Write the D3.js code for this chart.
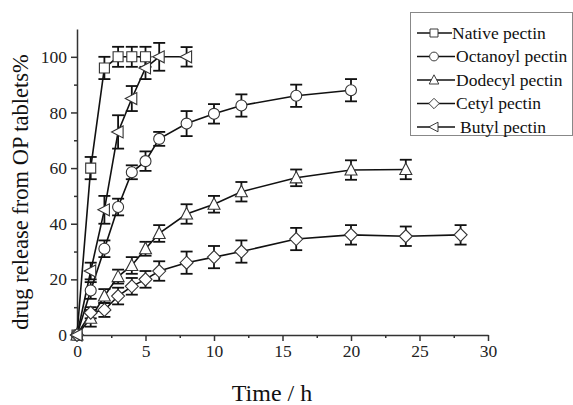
<!DOCTYPE html>
<html>
<head>
<meta charset="utf-8">
<script src="https://cdn.jsdelivr.net/npm/d3@7"></script>
<style>
  html, body { margin: 0; padding: 0; background: #fff; }
  svg { display: block; font-family: "Liberation Serif", "Times New Roman", serif; }
</style>
</head>
<body>
<svg id="chart" width="573" height="405"></svg>
<script>
// Release time points (h) and cumulative release (%) with SD for each pectin tablet
const nativeT   = [0, 1, 2, 3, 4, 5];
const nativeV   = [0, 60, 96, 100, 100, 100];
const nativeE   = [0, 4, 4, 3.6, 3.6, 3.6];

const octanoylT = [0, 1, 2, 3, 4, 5, 6, 8, 10, 12, 16, 20];
const octanoylV = [0, 16, 31, 46, 58.5, 62.5, 70.5, 76, 79.5, 82.5, 86, 88];
const octanoylE = [0, 3, 3, 3, 2.5, 3.5, 2.5, 4.5, 3.5, 4, 4, 4];

const dodecylT  = [0, 1, 2, 3, 4, 5, 6, 8, 10, 12, 16, 20, 24];
const dodecylV  = [0, 6, 14, 21, 25, 31, 36.5, 43.5, 47, 51.5, 56.5, 59.3, 59.5];
const dodecylE  = [0, 3, 2.5, 2.5, 3, 2.5, 3, 3.5, 3, 3.5, 3, 3.5, 3.5];

const cetylT    = [0, 1, 2, 3, 4, 5, 6, 8, 10, 12, 16, 20, 24, 28];
const cetylV    = [0, 8, 9, 14, 17.5, 20, 23, 26, 28, 30, 34.5, 36, 35.5, 36];
const cetylE    = [0, 2, 2.5, 3, 3, 3, 3.5, 4, 4, 4, 4, 3.5, 3.5, 3.5];

const butylT    = [0, 1, 2, 3, 4, 5, 6, 8];
const butylV    = [0, 23, 45, 73, 85, 96, 100, 100];
const butylE    = [0, 3, 5, 6, 4.5, 4, 5, 3.5];

const seriesNames = ["Native pectin", "Octanoyl pectin", "Dodecyl pectin", "Cetyl pectin", "Butyl pectin"];
const seriesShapes = ["square", "circle", "triangleUp", "diamond", "triangleLeft"];

const xTicks = [0, 5, 10, 15, 20, 25, 30];
const xMinorTicks = [2.5, 7.5, 12.5, 17.5, 22.5, 27.5];
const yTicks = [0, 20, 40, 60, 80, 100];
const yMinorTicks = [10, 30, 50, 70, 90];

const series = [
  { name: seriesNames[0], shape: seriesShapes[0], t: nativeT, v: nativeV, e: nativeE },
  { name: seriesNames[1], shape: seriesShapes[1], t: octanoylT, v: octanoylV, e: octanoylE },
  { name: seriesNames[2], shape: seriesShapes[2], t: dodecylT, v: dodecylV, e: dodecylE },
  { name: seriesNames[3], shape: seriesShapes[3], t: cetylT, v: cetylV, e: cetylE },
  { name: seriesNames[4], shape: seriesShapes[4], t: butylT, v: butylV, e: butylE }
].map(s => ({ ...s, pts: s.t.map((t, i) => ({ t, v: s.v[i], e: s.e[i] })) }));

const svg = d3.select("#chart");

const x = d3.scaleLinear().domain([0, 30]).range([77, 488]);
const y = d3.scaleLinear().domain([0, 110]).range([335, 29]);

const axisColor = "#333";

// Marker path generator centred on (0,0)
function markerPath(shape) {
  const r = 5;
  switch (shape) {
    case "square": return `M${-r},${-r}H${r}V${r}H${-r}Z`;
    case "circle": return `M${r + 0.5},0A${r + 0.5},${r + 0.5} 0 1,1 ${-r - 0.5},0A${r + 0.5},${r + 0.5} 0 1,1 ${r + 0.5},0Z`;
    case "triangleUp": return `M0,${-r - 1.5}L${r + 1},${r}L${-r - 1},${r}Z`;
    case "diamond": return `M0,${-r - 1.5}L${r + 1.5},0L0,${r + 1.5}L${-r - 1.5},0Z`;
    case "triangleLeft": return `M${-r - 1.5},0L${r},${-r - 1}L${r},${r + 1}Z`;
  }
}

// Axes
const gx = svg.append("g").attr("transform", `translate(0,${y(0)})`);
gx.call(d3.axisBottom(x).tickValues(xTicks).tickSize(6).tickSizeOuter(0).tickPadding(4));
gx.append("g").call(d3.axisBottom(x).tickValues(xMinorTicks).tickSize(3).tickFormat("")).select(".domain").remove();

const gy = svg.append("g").attr("transform", `translate(${x(0)},0)`);
gy.call(d3.axisLeft(y).tickValues(yTicks).tickSize(6).tickSizeOuter(0).tickPadding(4));
gy.append("g").call(d3.axisLeft(y).tickValues(yMinorTicks).tickSize(3).tickFormat("")).select(".domain").remove();

svg.selectAll(".domain").attr("stroke", axisColor).attr("stroke-width", 1.5);
svg.selectAll(".tick line").attr("stroke", axisColor).attr("stroke-width", 1.5);
svg.selectAll(".tick text")
  .attr("font-family", "Liberation Serif, serif")
  .attr("font-size", 17.5)
  .attr("fill", "#222");

// Axis titles
svg.append("text")
  .attr("x", 272).attr("y", 401)
  .attr("text-anchor", "middle")
  .attr("font-size", 24)
  .attr("fill", "#111")
  .text("Time / h");

svg.append("text")
  .attr("transform", `translate(28,192) rotate(-90)`)
  .attr("text-anchor", "middle")
  .attr("font-size", 22.5)
  .attr("fill", "#111")
  .text("drug release from OP tablets%");

const line = d3.line().x(d => x(d.t)).y(d => y(d.v));
const capW = 6;

// Lines
series.forEach(s => {
  svg.append("path")
    .datum(s.pts)
    .attr("d", line)
    .attr("fill", "none")
    .attr("stroke", "#111")
    .attr("stroke-width", 1.6);
});

// Error bars
series.forEach(s => {
  const g = svg.append("g").attr("stroke", "#111").attr("stroke-width", 1.8);
  s.pts.filter(d => d.e > 0).forEach(d => {
    const cx = x(d.t), top = y(d.v + d.e), bot = y(d.v - d.e);
    g.append("line").attr("x1", cx).attr("x2", cx).attr("y1", top).attr("y2", bot);
    g.append("line").attr("x1", cx - capW).attr("x2", cx + capW).attr("y1", top).attr("y2", top);
    g.append("line").attr("x1", cx - capW).attr("x2", cx + capW).attr("y1", bot).attr("y2", bot);
  });
});

// Markers
series.forEach(s => {
  svg.append("g").selectAll("path")
    .data(s.pts)
    .join("path")
    .attr("transform", d => `translate(${x(d.t)},${y(d.v)})`)
    .attr("d", markerPath(s.shape))
    .attr("fill", "#fff")
    .attr("stroke", "#333")
    .attr("stroke-width", 1.1);
});

// Legend
const lg = svg.append("g");
lg.append("rect")
  .attr("x", 410.5).attr("y", 12.5)
  .attr("width", 162).attr("height", 123)
  .attr("fill", "#fff")
  .attr("stroke", "#888")
  .attr("stroke-width", 1);
series.forEach((s, i) => {
  const cy = 33 + i * 23.5;
  const item = lg.append("g");
  item.append("line")
    .attr("x1", 417).attr("x2", i === 0 ? 452 : 455).attr("y1", cy).attr("y2", cy)
    .attr("stroke", "#111").attr("stroke-width", 1.5);
  item.append("path")
    .attr("transform", `translate(434,${cy}) scale(0.8)`)
    .attr("d", markerPath(s.shape))
    .attr("fill", "#fff").attr("stroke", "#333").attr("stroke-width", 1.2);
  item.append("text")
    .attr("x", i === 0 ? 452 : (i === 4 ? 460 : 456)).attr("y", cy + 5.5)
    .attr("font-size", 17.5)
    .attr("fill", "#111")
    .text(s.name);
});
</script>
</body>
</html>
